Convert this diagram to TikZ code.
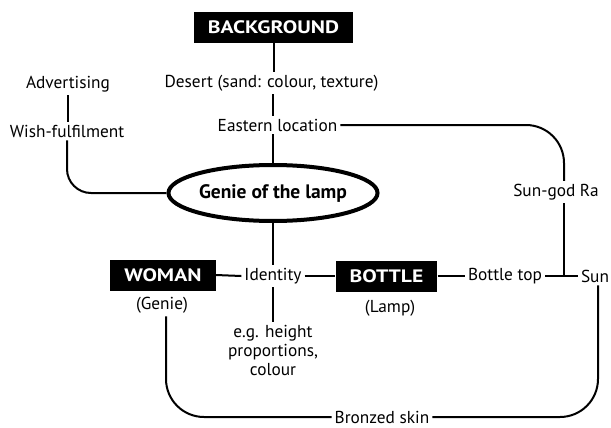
\documentclass[tikz,border=0pt]{standalone}
\usepackage{fontspec}
\setmainfont{PT Sans}
\newfontfamily\capsfont{PT Sans}[FakeStretch=1.2]
\usetikzlibrary{shapes.geometric}

\tikzset{%
        every idea/.style={
            font=\fontsize{17.3}{19}\selectfont,
            inner sep=3pt
        },
        idea box/.style={
            fill=black,
            text=white,
            font=\capsfont\fontsize{18}{20}\selectfont\bfseries,
            inner xsep=14pt,
            minimum height=31pt
        },
        idea core/.style={
            ellipse,
            draw,
            line width=4pt,
            inner sep=0pt,
            minimum width=203pt,
            minimum height=56pt,
            font=\fontsize{19.5}{21}\selectfont\bfseries
        },
        link/.style={
            line width=2pt
        },
    }

\begin{document}
\begin{tikzpicture}[x=1pt, y=-1pt]

        \useasboundingbox (0,0) rectangle (611,428);

        \node [idea box] (background) at (273.5,27.5) {BACKGROUND};
        \node [every idea] (desert) at (271.5,83) {Desert (sand: colour, texture)};
        \node [every idea] (eastern) at (277.5,125) {Eastern location};
        \node [idea core] (genie) at (273,193) {Genie of the lamp};

        \node [every idea] (advertising) at (68,84) {Advertising};
        \node [every idea] (wish) at (67,131) {Wish-fulfilment};
        \node [every idea] (sungod) at (556,192) {Sun-god Ra};

        \node [idea box] (woman) at (163,275) {WOMAN};
        \node [every idea] (genie-note) at (162,305) {(Genie)};
        \node [every idea] (identity) at (273,276) {Identity};
        \node [every idea, align=center] (identity-note) at (273,350) {e.g. height\\proportions,\\colour};
        \node [idea box] (bottle) at (386.5,276) {BOTTLE};
        \node [every idea] (bottle-note) at (390,308) {(Lamp)};
        \node [every idea] (bottletop) at (505,276) {Bottle top};
        \node [every idea] (sun) at (595,276) {Sun};
        \node [every idea] (bronzed) at (382,417) {Bronzed skin};

        % main stem
        \draw [link] (background.south) -- (background.south |- desert.north);
        \draw [link] (genie.north |- desert.south) -- (genie.north |- eastern.north);
        \draw [link] (genie.north |- eastern.south) -- (genie.north);
        \draw [link, rounded corners=38pt] (eastern.east) -| ([xshift=8pt]sungod.north);

        \draw [link] (advertising.south) -- (advertising.south |- wish.north);
        \draw [link, rounded corners=24pt] (wish.south) |- (genie.west);

        \draw [link] (genie.south) -- (genie.south |- identity.north);
        \draw [link] (genie.south |- identity.south) -- (genie.south |- identity-note.north);

        % middle row
        \foreach \a/\b in {woman/identity, identity/bottle, bottle/bottletop, bottletop/sun}
            \draw [link] (\a.east) -- (\b.west);
        \draw [link] ([xshift=8pt]sungod.south) -- ([xshift=8pt]sungod.south |- sun.west);

        \draw [link, rounded corners=38pt] ([xshift=4pt]genie-note.south) |- (bronzed.west);
        \draw [link, rounded corners=38pt] ([xshift=3pt]sun.south) |- (bronzed.east);
    \end{tikzpicture}
\end{document}
